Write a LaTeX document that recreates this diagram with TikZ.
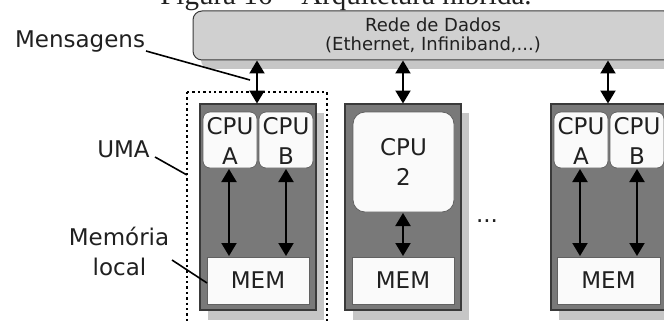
\documentclass[tikz,border=0pt]{standalone}
\usepackage{fontspec}
\setmainfont{DejaVu Sans}
\newfontfamily\capfont{Liberation Serif}
\usetikzlibrary{arrows.meta}
\definecolor{nodegray}{HTML}{797979}
\definecolor{netgray}{HTML}{D0D0D0}
\definecolor{shadowgray}{HTML}{C6C6C6}
\definecolor{edgegray}{HTML}{3A3A3A}
\definecolor{ink}{HTML}{202020}
\definecolor{paper}{HTML}{FAFAFA}
\begin{document}
\begin{tikzpicture}[x=1pt,y=-1pt,
  bigtxt/.style={font=\fontsize{23}{30}\selectfont, text=ink, align=center, inner sep=0pt},
  nettxt/.style={font=\fontsize{18}{19}\selectfont, text=ink, align=center, inner sep=0pt},
  nodebox/.style={draw=edgegray, line width=1.2pt, fill=nodegray},
  shadowbox/.style={fill=shadowgray, draw=none},
  cpubox/.style={draw=edgegray!80, line width=0.8pt, fill=paper, rounded corners=7pt},
  membox/.style={draw=edgegray!80, line width=0.8pt, fill=paper},
  biarrow/.style={line width=2pt, draw=black, {Triangle[width=15pt,length=13pt]}-{Triangle[width=15pt,length=13pt]}, shorten <=0pt, shorten >=0pt},
  leader/.style={line width=1.6pt, draw=black},
]
\useasboundingbox (0,0) rectangle (664,321);
\clip (0,0) rectangle (664,321);
\fill[white] (0,0) rectangle (664,321);

% caption line above the figure
\node[anchor=base, font=\capfont\fontsize{29}{30}\selectfont, text=ink, inner sep=0pt] (caption) at (346,4.5) {Figura 16 – Arquitetura híbrida.};

% data network bar
\fill[shadowgray, rounded corners=9pt] (201,20) rectangle (690,69);
\draw[draw=edgegray, line width=1pt, fill=netgray, rounded corners=9pt] (193,11) rectangle (673,60);
\node[nettxt] (net) at (433,35.5) {Rede de Dados\\(Ethernet, Infiniband,...)};
\coordinate (netbot1) at (257,60.5);
\coordinate (netbot2) at (403,60.5);
\coordinate (netbot3) at (608,60.5);

% node 1: two CPUs sharing one memory (UMA)
\fill[shadowbox] (208,113) rectangle (324,320);
\draw[nodebox] (200,104) rectangle (316,310);
\draw[cpubox] (203,112) rectangle (257,168);
\draw[cpubox] (259,112) rectangle (313,168);
\node[bigtxt] (cpu1a) at (230,141) {CPU\\A};
\node[bigtxt] (cpu1b) at (286,141) {CPU\\B};
\draw[membox] (207,257) rectangle (309,304);
\node[bigtxt] (mem1) at (258,280.5) {MEM};
\coordinate (top1) at (257,103.5);

% node 2: a single CPU
\fill[shadowbox] (353,113) rectangle (469,320);
\draw[nodebox] (345,104) rectangle (461,310);
\draw[cpubox, rounded corners=12pt] (353,112) rectangle (454,212);
\node[bigtxt] (cpu2) at (403.5,162) {CPU\\2};
\draw[membox] (352,257) rectangle (454,304);
\node[bigtxt] (mem2) at (403,280.5) {MEM};
\coordinate (top2) at (403,103.5);

% ellipsis between nodes
\node[bigtxt, anchor=base] (dots) at (487,222) {...};

% node 3: two CPUs sharing one memory
\fill[shadowbox] (559,113) rectangle (675,320);
\draw[nodebox] (551,104) rectangle (667,310);
\draw[cpubox] (554,112) rectangle (608,168);
\draw[cpubox] (610,112) rectangle (664,168);
\node[bigtxt] (cpu3a) at (581,141) {CPU\\A};
\node[bigtxt] (cpu3b) at (637,141) {CPU\\B};
\draw[membox] (557,257) rectangle (660,304);
\node[bigtxt] (mem3) at (608.5,280.5) {MEM};
\coordinate (top3) at (608,103.5);

% dotted frame marking the UMA group
\draw[line width=1.8pt, dash pattern=on 2.4pt off 3pt] (187,92) -- (327,92) -- (327,340) (187,92) -- (187,340);

% network links
\draw[biarrow] (netbot1) -- (top1);
\draw[biarrow] (netbot2) -- (top2);
\draw[biarrow] (netbot3) -- (top3);

% CPU-memory links
\draw[biarrow] (229,169) -- (229,256);
\draw[biarrow] (286,169) -- (286,256);
\draw[biarrow] (403,213) -- (403,256);
\draw[biarrow] (580,169) -- (580,256);
\draw[biarrow] (637,169) -- (637,256);

% side labels with leader lines
\node[bigtxt, anchor=base] (lblmsg) at (80,48) {Mensagens};
\coordinate (msgfrom) at (146,51);
\coordinate (msgto) at (250,80);
\draw[leader] (msgfrom) -- (msgto);

\node[bigtxt, anchor=base] (lbluma) at (123.5,157) {UMA};
\coordinate (umafrom) at (155,157);
\coordinate (umato) at (187,175);
\draw[leader] (umafrom) -- (umato);

\node[bigtxt, anchor=base] (lblmem) at (119,245) {Memória};
\node[bigtxt, anchor=base] (lbllocal) at (119.5,275) {local};
\coordinate (memfrom) at (172,260);
\coordinate (memto) at (207,283);
\draw[leader] (memfrom) -- (memto);
\end{tikzpicture}
\end{document}
